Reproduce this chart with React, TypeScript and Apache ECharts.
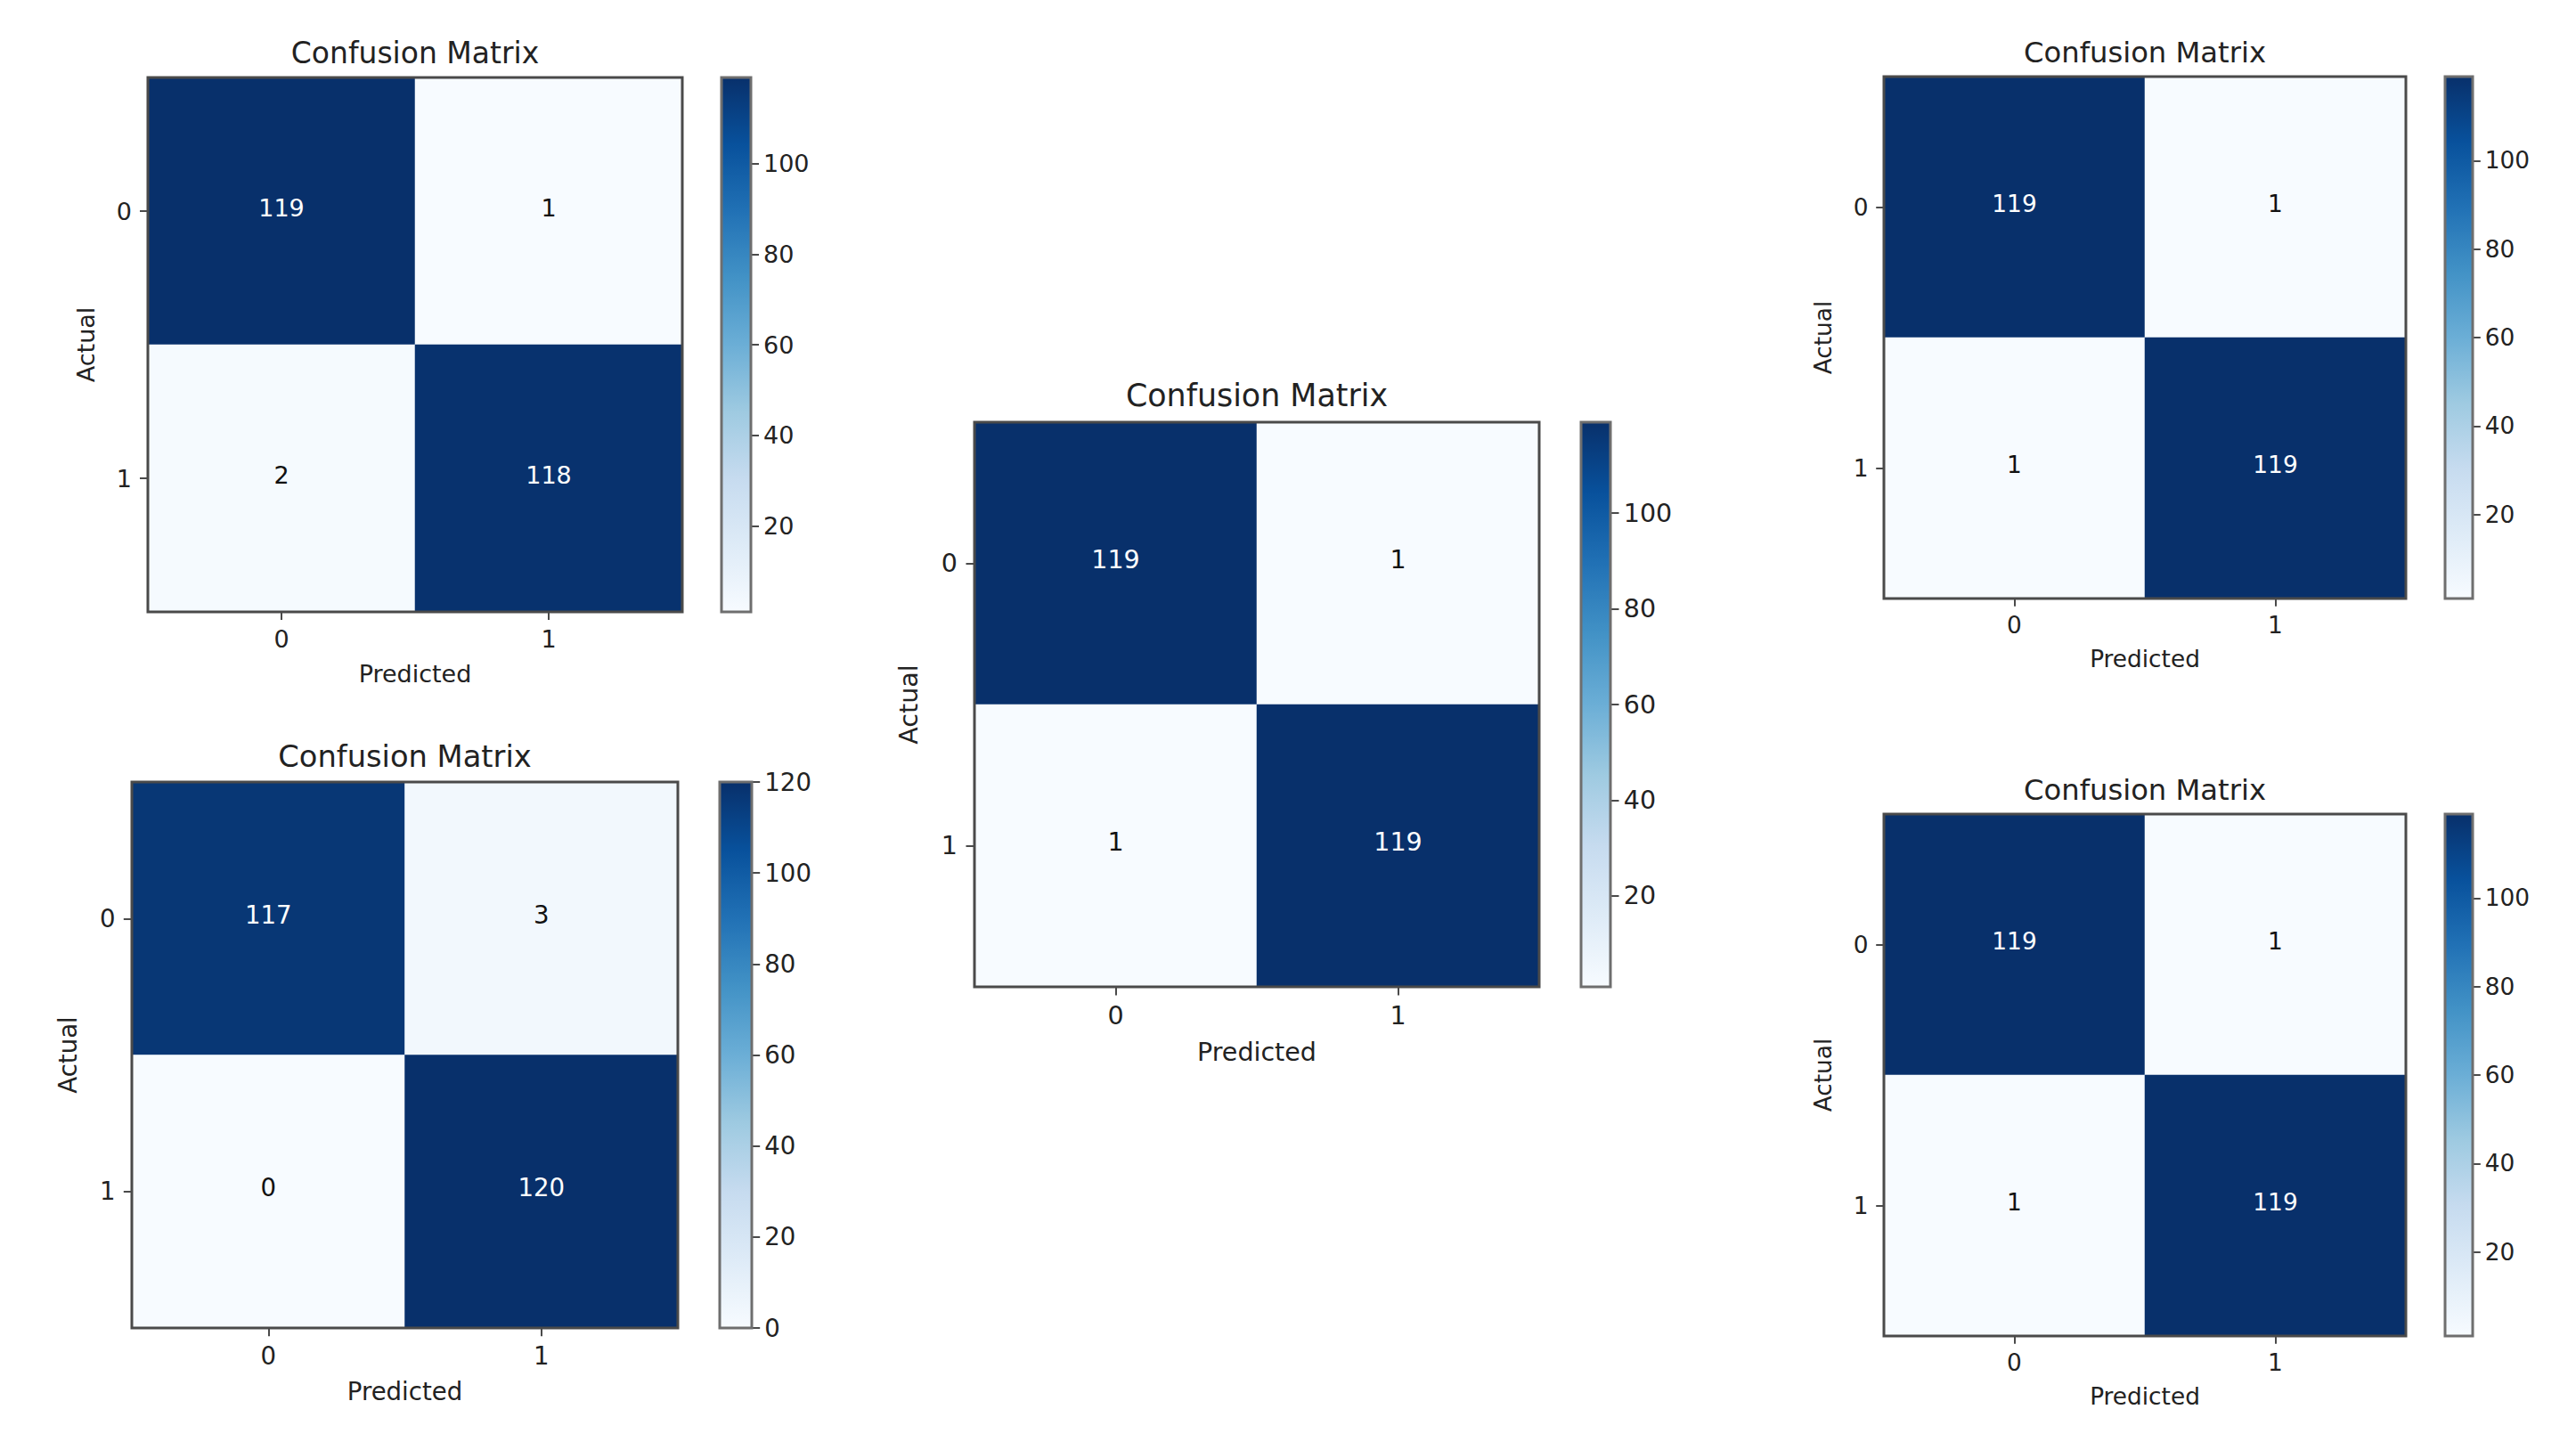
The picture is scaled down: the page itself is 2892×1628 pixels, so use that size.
import React, { useEffect, useRef } from "react";
import * as echarts from "echarts";

// ---- data ----
const predictedLabels = ["0", "1"];
const actualLabels = ["0", "1"];
// rows = actual, columns = predicted
const matrixTopLeft = [
  [119, 1],
  [2, 118],
];
const matrixBottomLeft = [
  [117, 3],
  [0, 120],
];
const matrixCenter = [
  [119, 1],
  [1, 119],
];
const matrixTopRight = [
  [119, 1],
  [1, 119],
];
const matrixBottomRight = [
  [119, 1],
  [1, 119],
];
const matrices = [matrixTopLeft, matrixBottomLeft, matrixCenter, matrixTopRight, matrixBottomRight];
const colorbarMin = [1, 0, 1, 1, 1];
const colorbarMax = [119, 120, 119, 119, 119];
const ticksA = [20, 40, 60, 80, 100];
const ticksB = [0, 20, 40, 60, 80, 100, 120];
const colorbarTicks = [ticksA, ticksB, ticksA, ticksA, ticksA];
const titleText = "Confusion Matrix";
const xName = "Predicted";
const yName = "Actual";

// ---- styles / layout ----
const blues = [
  "#f7fbff",
  "#deebf7",
  "#c6dbef",
  "#9ecae1",
  "#6baed6",
  "#4292c6",
  "#2171b5",
  "#08519c",
  "#08306b",
];
const layouts = [
  { left: 166, top: 87, size: 600, cbLeft: 810, cbWidth: 33 },
  { left: 148, top: 878, size: 613, cbLeft: 808, cbWidth: 36 },
  { left: 1094, top: 474, size: 634, cbLeft: 1775, cbWidth: 33 },
  { left: 2115, top: 86, size: 586, cbLeft: 2745, cbWidth: 31 },
  { left: 2115, top: 914, size: 586, cbLeft: 2745, cbWidth: 31 },
];
const FONT = "DejaVu Sans";
const TEXT = "#222222";
const EDGE = "#4a4a4a";
const CB_EDGE = "#6e6e6e";

function buildOption() {
  const grid: any[] = [];
  const xAxis: any[] = [];
  const yAxis: any[] = [];
  const series: any[] = [];
  const visualMap: any[] = [];
  const graphic: any[] = [];

  matrices.forEach((m, i) => {
    const L = layouts[i];
    const k = L.size / 600;
    const fs = 27 * k;
    const tfs = 33 * k;
    const vmin = colorbarMin[i];
    const vmax = colorbarMax[i];
    let maxVal = 0;
    m.forEach((row) => row.forEach((v) => (maxVal = Math.max(maxVal, v))));
    const thresh = maxVal / 2;

    // heatmap grid
    grid.push({
      left: L.left,
      top: L.top,
      width: L.size,
      height: L.size,
      show: true,
      z: 10,
      borderColor: EDGE,
      borderWidth: 3,
      backgroundColor: "transparent",
      containLabel: false,
    });
    // colorbar grid
    grid.push({
      left: L.cbLeft,
      top: L.top,
      width: L.cbWidth,
      height: L.size,
      show: true,
      z: 10,
      borderColor: CB_EDGE,
      borderWidth: 3,
      backgroundColor: "transparent",
      containLabel: false,
    });

    const gHeat = 2 * i;
    const gBar = 2 * i + 1;

    xAxis.push({
      type: "category",
      gridIndex: gHeat,
      data: predictedLabels,
      position: "bottom",
      axisLine: { show: false },
      axisTick: { show: true, alignWithLabel: true, length: 9 * k, lineStyle: { color: EDGE, width: 2 } },
      axisLabel: { fontSize: fs, color: TEXT, fontFamily: FONT, margin: 17 * k },
      splitLine: { show: false },
      name: xName,
      nameLocation: "middle",
      nameGap: 56 * k,
      nameTextStyle: { fontSize: fs, color: TEXT, fontFamily: FONT },
    });
    yAxis.push({
      type: "category",
      gridIndex: gHeat,
      data: actualLabels,
      inverse: true,
      position: "left",
      axisLine: { show: false },
      axisTick: { show: true, alignWithLabel: true, length: 9 * k, lineStyle: { color: EDGE, width: 2 } },
      axisLabel: { fontSize: fs, color: TEXT, fontFamily: FONT, margin: 18 * k },
      splitLine: { show: false },
      name: yName,
      nameLocation: "middle",
      nameGap: 56 * k,
      nameTextStyle: { fontSize: fs, color: TEXT, fontFamily: FONT },
    });

    xAxis.push({
      type: "category",
      gridIndex: gBar,
      data: [""],
      show: false,
    });
    yAxis.push({
      type: "value",
      gridIndex: gBar,
      position: "right",
      min: vmin,
      max: vmax,
      axisLine: { show: false },
      splitLine: { show: false },
      axisTick: {
        show: true,
        length: 9 * k,
        customValues: colorbarTicks[i],
        lineStyle: { color: EDGE, width: 2 },
      },
      axisLabel: {
        fontSize: fs,
        color: TEXT,
        fontFamily: FONT,
        margin: 14 * k,
        customValues: colorbarTicks[i],
        showMinLabel: true,
        showMaxLabel: true,
      },
    });

    const data: any[] = [];
    m.forEach((row, r) =>
      row.forEach((v, c) => {
        data.push({
          value: [c, r, v],
          label: { color: v > thresh ? "#ffffff" : "#111111" },
        });
      })
    );

    series.push({
      type: "heatmap",
      xAxisIndex: gHeat,
      yAxisIndex: gHeat,
      data,
      label: {
        show: true,
        fontSize: fs,
        fontFamily: FONT,
        offset: [0, -4 * k],
        formatter: (p: any) => String(p.value[2]),
      },
      emphasis: { disabled: true },
      itemStyle: { borderWidth: 0 },
    });

    visualMap.push({
      type: "continuous",
      show: false,
      min: vmin,
      max: vmax,
      dimension: 2,
      seriesIndex: series.length - 1,
      inRange: { color: blues },
    });

    series.push({
      type: "bar",
      xAxisIndex: gBar,
      yAxisIndex: gBar,
      data: [vmax],
      barWidth: "100%",
      clip: true,
      silent: true,
      itemStyle: {
        color: new echarts.graphic.LinearGradient(
          0,
          1,
          0,
          0,
          blues.map((c, j) => ({ offset: j / (blues.length - 1), color: c }))
        ),
      },
    });

    graphic.push({
      type: "text",
      x: L.left + L.size / 2,
      y: L.top - 28 * k,
      style: {
        text: titleText,
        fontSize: tfs,
        fontFamily: FONT,
        fill: TEXT,
        align: "center",
        verticalAlign: "middle",
      },
      silent: true,
    });
  });

  return {
    animation: false,
    backgroundColor: "#ffffff",
    grid,
    xAxis,
    yAxis,
    visualMap,
    series,
    graphic,
  };
}

export default function App() {
  const ref = useRef<HTMLDivElement | null>(null);
  useEffect(() => {
    if (!ref.current) return;
    const chart = echarts.init(ref.current, undefined, { renderer: "svg" });
    chart.setOption(buildOption() as any);
    return () => chart.dispose();
  }, []);
  return (
    <div
      ref={ref}
      style={{ position: "fixed", left: 0, top: 0, width: 2892, height: 1628, background: "#fff" }}
    />
  );
}
